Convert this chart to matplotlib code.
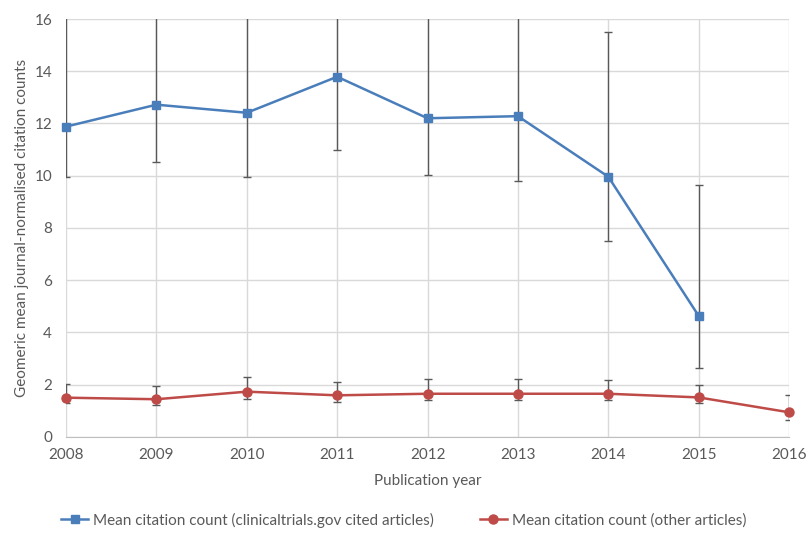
import matplotlib.pyplot as plt
import numpy as np

plt.rcParams['font.family'] = ['Lato', 'DejaVu Sans']

years = [2008, 2009, 2010, 2011, 2012, 2013, 2014, 2015, 2016]

# clinicaltrials.gov cited articles (no 2016 value)
ct_years = years[:8]
ct_mean = [11.88, 12.72, 12.41, 13.79, 12.20, 12.28, 9.96, 4.63]
ct_low = [9.94, 10.53, 9.94, 11.00, 10.03, 9.80, 7.50, 2.64]
ct_high = [17.0, 17.5, 17.0, 19.0, 17.0, 17.0, 15.52, 9.65]

# other articles
ot_mean = [1.50, 1.44, 1.73, 1.59, 1.65, 1.65, 1.65, 1.51, 0.94]
ot_low = [1.28, 1.22, 1.45, 1.34, 1.40, 1.40, 1.40, 1.29, 0.64]
ot_high = [2.02, 1.95, 2.30, 2.11, 2.23, 2.23, 2.18, 1.97, 1.60]

blue = '#4a7ebb'
red = '#be4b48'
err_col = '#595959'
txt_col = '#595959'

fig = plt.figure(figsize=(8.07, 5.36), dpi=100)
ax = fig.add_axes([0.0818, 0.185, 0.896, 0.7795])

ct_err = [np.array(ct_mean) - np.array(ct_low), np.array(ct_high) - np.array(ct_mean)]
ot_err = [np.array(ot_mean) - np.array(ot_low), np.array(ot_high) - np.array(ot_mean)]

ax.errorbar(ct_years, ct_mean, yerr=ct_err, fmt='none', ecolor=err_col,
            elinewidth=1, capsize=3, capthick=1, zorder=2)
ax.errorbar(years, ot_mean, yerr=ot_err, fmt='none', ecolor=err_col,
            elinewidth=1, capsize=3, capthick=1, zorder=2)

ax.plot(ct_years, ct_mean, color=blue, lw=1.8, marker='s', ms=6,
        label='Mean citation count (clinicaltrials.gov cited articles)',
        clip_on=False, zorder=3)
ax.plot(years, ot_mean, color=red, lw=1.8, marker='o', ms=6.5,
        label='Mean citation count (other articles)',
        clip_on=False, zorder=3)

ax.set_xlim(2008, 2016)
ax.set_ylim(0, 16)
ax.set_xticks(years)
ax.set_yticks(range(0, 17, 2))
ax.grid(True, color='#d9d9d9', lw=1)
ax.set_axisbelow(True)
for s in ['top', 'right', 'left']:
    ax.spines[s].set_visible(False)
ax.spines['bottom'].set_color('#bfbfbf')
ax.tick_params(axis='x', length=0, labelsize=11, colors=txt_col, pad=8)
ax.tick_params(axis='y', length=0, labelsize=11, colors=txt_col, pad=10)

ax.set_xlabel('Publication year', fontsize=11, color=txt_col, labelpad=9)
ax.set_ylabel('Geomeric mean journal-normalised citation counts', fontsize=11,
              color=txt_col, labelpad=4)

fig.legend(loc='lower center', bbox_to_anchor=(0.5, -0.01), ncol=2, frameon=False,
           fontsize=11, labelcolor=txt_col, handlelength=1.8, columnspacing=3,
           handletextpad=0.3)

fig.savefig('out.png', dpi=100)
